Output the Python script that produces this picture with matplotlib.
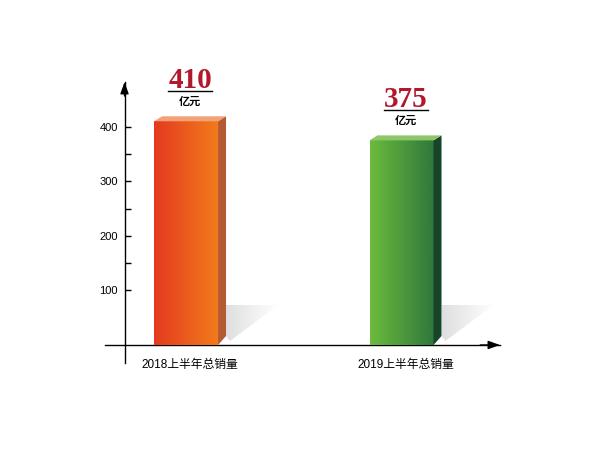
import numpy as np
import matplotlib
matplotlib.use('Agg')
import matplotlib.pyplot as plt
from matplotlib.patches import Polygon
from matplotlib.colors import LinearSegmentedColormap
from matplotlib.transforms import offset_copy

# data
categories = ['2018上半年总销量', '2019上半年总销量']
sales = [410, 375]
value_labels = ['410', '375']
unit_label = '亿元'
yticks_major = [100, 200, 300, 400]
yticks_minor = [150, 250, 350]

# colours for the 3d-ish bars
front_colors = [('#e43a1f', '#f27b1b'), ('#6dbb3c', '#2e783c')]
side_colors = ['#b55b33', '#17452a']
top_colors = ['#f3a277', '#8fc66c']
value_color = '#b3172c'

plt.rcParams['font.family'] = ['Liberation Sans', 'Noto Sans CJK SC']

W, H = 600, 450
fig = plt.figure(figsize=(W / 100, H / 100), dpi=100)
ax = fig.add_axes([105 / W, 87 / H, 395 / W, 281 / H])
xlim = (-0.376, 1.457)
ylim = (-33, 482)

# pixel -> data conversions for the decorative depth
px_x = 395 / (xlim[1] - xlim[0])
px_y = 281 / (ylim[1] - ylim[0])
dx = 8 / px_x
dy_top = 5 / px_y
dy_bot = 9 / px_y
bar_w = 64 / px_x
yaxis_x = (124.5 - 186) / px_x

x = np.arange(len(sales))
bars = ax.bar(x, sales, width=bar_w, facecolor='none', linewidth=0, zorder=4)

grad = np.linspace(0, 1, 256).reshape(1, -1)
for i, b in enumerate(bars):
    xl = b.get_x()
    xr = xl + b.get_width()
    h = b.get_height()

    # shadow on the floor
    shadow = Polygon([(xr + dx, dy_bot), (xr + dx, 40 / px_y), (xr + 60 / px_x, 40 / px_y),
                      (xr + 12 / px_x, 4 / px_y)], closed=True, facecolor='none',
                     edgecolor='none')
    ax.add_patch(shadow)
    sh = np.zeros((1, 256, 4))
    sh[..., :3] = 0.72
    sh[..., 3] = np.linspace(0.45, 0.0, 256)
    im_sh = ax.imshow(sh, extent=(xr + dx, xr + 60 / px_x, 0, 40 / px_y),
                      aspect='auto', zorder=1, interpolation='bilinear')
    im_sh.set_clip_path(shadow)

    # front face gradient
    cmap = LinearSegmentedColormap.from_list('bar%d' % i, front_colors[i])
    im = ax.imshow(grad, cmap=cmap, extent=(xl, xr, 0, h), aspect='auto',
                   zorder=3, interpolation='bilinear')
    im.set_clip_path(b)

    side = Polygon([(xr, 0), (xr + dx, dy_bot), (xr + dx, h + dy_top), (xr, h)],
                   closed=True, facecolor=side_colors[i], edgecolor='none', zorder=3)
    ax.add_patch(side)
    top = Polygon([(xl, h), (xl + dx, h + dy_top), (xr + dx, h + dy_top), (xr, h)],
                  closed=True, facecolor=top_colors[i], edgecolor='none', zorder=3)
    ax.add_patch(top)

    # value + unit on top
    cx = x[i] + dx / 2
    ax.annotate(value_labels[i], (cx, h), xytext=(0, 33 / 1.389), textcoords='offset points',
                ha='center', va='baseline', fontsize=21, family='Liberation Serif',
                fontweight='bold', color=value_color)
    ax.plot([cx - 22 / px_x, cx + 22 / px_x], [h, h], color='black', lw=1,
            transform=offset_copy(ax.transData, y=30.5, units='dots'))
    ax.annotate(unit_label, (cx, h), xytext=(0, 20 / 1.389), textcoords='offset points',
                ha='center', va='center', fontsize=8, family='Noto Sans CJK SC',
                fontweight='bold')

ax.set_xlim(*xlim)
ax.set_ylim(*ylim)

for s in ['top', 'right']:
    ax.spines[s].set_visible(False)
ax.spines['left'].set_position(('data', yaxis_x))
ax.spines['bottom'].set_position(('data', 0))
ax.spines['left'].set_linewidth(1)
ax.spines['bottom'].set_linewidth(1)

# arrow heads
arr = dict(arrowstyle='-|>,head_length=0.7,head_width=0.25', color='black', lw=1,
           shrinkA=0, shrinkB=0)
ax.annotate('', xy=(yaxis_x, 1), xycoords=('data', 'axes fraction'),
            xytext=(yaxis_x, 0.95), textcoords=('data', 'axes fraction'), arrowprops=arr)
ax.annotate('', xy=(1, 0), xycoords=('axes fraction', 'data'),
            xytext=(0.95, 0), textcoords=('axes fraction', 'data'), arrowprops=arr)

ax.set_yticks(yticks_major)
ax.set_yticks(yticks_minor, minor=True)
ax.tick_params(axis='y', which='both', direction='in', length=4.3, width=1,
               labelsize=8, pad=4.7)
ax.set_xticks(x + dx / 2, categories)
ax.tick_params(axis='x', length=0, pad=10, labelsize=8.5)

fig.savefig('out.png', dpi=100)
